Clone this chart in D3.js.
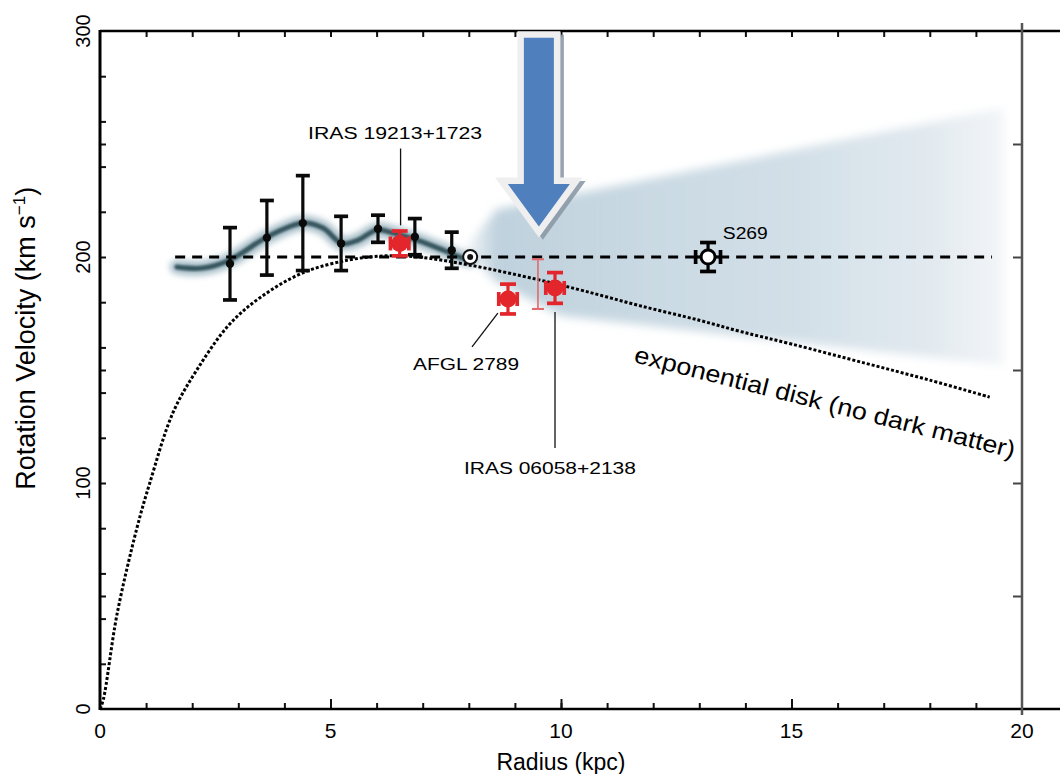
<!DOCTYPE html>
<html><head><meta charset="utf-8">
<script src="https://cdn.jsdelivr.net/npm/d3@7"></script>
<style>
body{margin:0;background:#fff;}
svg text{font-family:"Liberation Sans",Arial,Helvetica,sans-serif;fill:#000;}
</style></head><body>
<svg id="chart" width="1060" height="774"></svg>
<script>
// ---------- data ----------
const xTickLabels = [0, 5, 10, 15, 20];
const yTickLabels = [0, 100, 200, 300];
const xMinorTicks = [1,2,3,4,5,6,7,8,9,10,11,12,13,14,15,16,17,18,19];
const yMinorTicks = [20,40,50,60,80,100,120,140,150,160,180,200,220,240,250,260,280];
const yRightTicks = [50,100,150,200,250];

// HI / tracer rotation curve points (black)
const tracerR   = [2.82, 3.62, 4.40, 5.23, 6.03, 6.83, 7.63];
const tracerV   = [197, 208.5, 215, 206, 212.5, 209, 203];
const tracerErr = [16, 16.5, 21, 12, 6, 8, 8];

// maser sources (red)
const maserNames = ["IRAS 19213+1723", "AFGL 2789", "IRAS 06058+2138"];
const maserR     = [6.5, 8.85, 9.87];
const maserV     = [206, 181.4, 186.3];
const maserVErr  = [5.5, 6.6, 6.8];
const maserRErr  = [0.2, 0.2, 0.2];

// thin pink error bar
const thinR = [9.5];
const thinV = [188];
const thinErr = [11];

// S269
const s269R = [13.19];
const s269V = [200];
const s269VErr = [6.4];
const s269RErr = [0.27];

// Sun
const sunR = [8.03];
const sunV = [200];

// flat rotation (dashed)
const flatR = [1.63, 19.35];
const flatV = [200, 200];

// exponential disk (dotted)
const diskR = [0, 0.07, 0.37, 0.8, 1.08, 1.58, 2.1, 2.8, 3.47, 4.4, 5.4, 6.2, 6.9, 8.0, 9.5, 10.5, 11.7, 13.0, 13.9, 15.0, 16.6, 18.0, 19.3];
const diskV = [0, 4, 42, 80, 100, 131, 150, 170, 182, 193, 198.7, 200.5, 200, 196.5, 190, 185, 178.5, 172, 167, 161.5, 153, 145.5, 138];

// wavy inner band
const bandR = [1.67, 2.23, 2.82, 3.62, 4.40, 4.84, 5.25, 5.6, 6.01, 6.36, 6.88, 7.44, 7.81, 8.03];
const bandV = [195.6, 195.1, 198.7, 208.8, 215.0, 212.8, 206.0, 207.5, 212.0, 210.6, 207.5, 203.1, 199.9, 198.7];

// outer uncertainty fan
const fanR = [7.9, 8.6, 19.6, 19.6, 10.0, 8.6];
const fanV = [203, 221, 266, 152, 174, 189];

// arrow annotation
const arrowR = [9.52];
const arrowV = [297, 232.3, 213.5]; // top, head base, tip

// ---------- setup ----------
const W = 1060, H = 774;
const svg = d3.select("#chart");
const x = d3.scaleLinear().domain([0, 20]).range([100, 1022]);
const y = d3.scaleLinear().domain([0, 300]).range([709, 31]);

svg.append("rect").attr("width", W).attr("height", H).attr("fill", "#fff");

const defs = svg.append("defs");
const fb = defs.append("filter").attr("id", "blurFan").attr("x", "-20%").attr("y", "-30%").attr("width", "140%").attr("height", "160%");
fb.append("feGaussianBlur").attr("stdDeviation", 5);
const bb = defs.append("filter").attr("id", "blurBand").attr("x", "-10%").attr("y", "-50%").attr("width", "120%").attr("height", "200%");
bb.append("feGaussianBlur").attr("stdDeviation", 3);
const bb2 = defs.append("filter").attr("id", "blurCore").attr("x", "-10%").attr("y", "-50%").attr("width", "120%").attr("height", "200%");
bb2.append("feGaussianBlur").attr("stdDeviation", 1.2);

const grad = defs.append("linearGradient").attr("id", "fanGrad")
  .attr("gradientUnits", "userSpaceOnUse")
  .attr("x1", x(7.8)).attr("x2", x(19.7)).attr("y1", 0).attr("y2", 0);
[[0, "#b8ccd8", 0], [0.07, "#bccfdb", 0.95], [0.3, "#c8d8e2", 1], [0.6, "#d2dfe7", 1], [0.85, "#e1e9ef", 1], [1, "#f3f6f8", 1]]
  .forEach(s => grad.append("stop").attr("offset", s[0]).attr("stop-color", s[1]).attr("stop-opacity", s[2]));

// ---------- fan ----------
const fanPts = fanR.map((r, i) => [x(r), y(fanV[i])]);
svg.append("path")
  .attr("d", d3.line()(fanPts) + "Z")
  .attr("fill", "url(#fanGrad)")
  .attr("filter", "url(#blurFan)");

// ---------- wavy band ----------
const bandLine = d3.line().x((d, i) => x(bandR[i])).y(d => y(d)).curve(d3.curveCatmullRom.alpha(0.5));
svg.append("path").attr("d", bandLine(bandV)).attr("fill", "none")
  .attr("stroke", "#86a5b3").attr("stroke-width", 14).attr("stroke-linecap", "round")
  .attr("opacity", 0.75).attr("filter", "url(#blurBand)");
svg.append("path").attr("d", bandLine(bandV)).attr("fill", "none")
  .attr("stroke", "#38575f").attr("stroke-width", 5).attr("stroke-linecap", "round")
  .attr("filter", "url(#blurCore)");

// ---------- axes ----------
const gLeft = svg.append("g").attr("transform", `translate(${x(0)},0)`)
  .call(d3.axisRight(y).tickValues(yMinorTicks).tickSize(6).tickFormat(""));
const gTop = svg.append("g").attr("transform", `translate(0,${y(300)})`)
  .call(d3.axisBottom(x).tickValues(xMinorTicks).tickSize(6).tickFormat(""));
const gBot = svg.append("g").attr("transform", `translate(0,${y(0)})`)
  .call(d3.axisTop(x).tickValues(xMinorTicks).tickSize(6).tickFormat(""));
const gBot5 = svg.append("g").attr("transform", `translate(0,${y(0)})`)
  .call(d3.axisTop(x).tickValues([5, 10, 15]).tickSize(10).tickFormat(""));
const gRight = svg.append("g").attr("transform", `translate(${x(20)},0)`)
  .call(d3.axisLeft(y).tickValues(yRightTicks).tickSize(9).tickFormat(""));
[gLeft, gTop, gBot, gBot5, gRight].forEach(g => {
  g.select(".domain").remove();
  g.selectAll(".tick line").attr("stroke", "#111").attr("stroke-width", 2);
});
gRight.selectAll(".tick line").attr("stroke", "#444");

// frame
svg.append("line").attr("x1", x(0)).attr("x2", W).attr("y1", y(300)).attr("y2", y(300)).attr("stroke", "#000").attr("stroke-width", 2.5);
svg.append("line").attr("x1", x(0)).attr("x2", W).attr("y1", y(0)).attr("y2", y(0)).attr("stroke", "#000").attr("stroke-width", 2.5);
svg.append("line").attr("x1", x(0)).attr("x2", x(0)).attr("y1", y(300) - 1).attr("y2", y(0) + 1).attr("stroke", "#000").attr("stroke-width", 3);
svg.append("line").attr("x1", x(20)).attr("x2", x(20)).attr("y1", y(300) - 8).attr("y2", y(0) + 6).attr("stroke", "#555").attr("stroke-width", 2.5);

// tick labels
svg.append("g").selectAll("text").data(xTickLabels).join("text")
  .attr("x", d => x(d)).attr("y", y(0) + 29)
  .attr("text-anchor", "middle").attr("font-size", 21).text(d => d);
svg.append("g").selectAll("text").data(yTickLabels).join("text")
  .attr("transform", d => `translate(${x(0) - 10},${y(d)}) rotate(-90)`)
  .attr("text-anchor", "middle").attr("font-size", 20).text(d => d);

// axis titles
svg.append("text").attr("x", (x(0) + x(20)) / 2).attr("y", 770)
  .attr("text-anchor", "middle").attr("font-size", 23).text("Radius (kpc)");
const yt = svg.append("text").attr("transform", `translate(35,${y(164)}) rotate(-90)`)
  .attr("text-anchor", "middle").attr("font-size", 27);
yt.append("tspan").text("Rotation Velocity (km s");
yt.append("tspan").attr("dy", -10).attr("font-size", 17).text("\u22121");
yt.append("tspan").attr("dy", 10).text(")");

// ---------- dashed flat line ----------
svg.append("path")
  .attr("d", d3.line().x((d, i) => x(flatR[i])).y(d => y(d))(flatV))
  .attr("stroke", "#000").attr("stroke-width", 3).attr("stroke-dasharray", "10,7").attr("fill", "none");

// ---------- dotted exponential disk ----------
svg.append("path")
  .attr("d", d3.line().x((d, i) => x(diskR[i])).y(d => y(d)).curve(d3.curveCatmullRom.alpha(0.5))(diskV))
  .attr("stroke", "#000").attr("stroke-width", 3).attr("stroke-dasharray", "3,2").attr("fill", "none");

// rotated label
svg.append("text")
  .attr("transform", `translate(${x(11.56)},${y(153.5)}) rotate(14.2)`)
  .attr("font-size", 24).attr("textLength", 392).attr("lengthAdjust", "spacingAndGlyphs")
  .text("exponential disk (no dark matter)");

// ---------- error bars helper ----------
function vBar(g, r, v, e, cap, color, w) {
  g.append("line").attr("x1", x(r)).attr("x2", x(r)).attr("y1", y(v - e)).attr("y2", y(v + e))
    .attr("stroke", color).attr("stroke-width", w);
  [v - e, v + e].forEach(t => g.append("line").attr("x1", x(r) - cap).attr("x2", x(r) + cap)
    .attr("y1", y(t)).attr("y2", y(t)).attr("stroke", color).attr("stroke-width", w + 0.5));
}
function hBar(g, r, v, e, cap, color, w) {
  g.append("line").attr("x1", x(r - e)).attr("x2", x(r + e)).attr("y1", y(v)).attr("y2", y(v))
    .attr("stroke", color).attr("stroke-width", w);
  [r - e, r + e].forEach(t => g.append("line").attr("x1", x(t)).attr("x2", x(t))
    .attr("y1", y(v) - cap).attr("y2", y(v) + cap).attr("stroke", color).attr("stroke-width", w + 0.5));
}

// thin pink bar
const gThin = svg.append("g");
thinR.forEach((r, i) => vBar(gThin, r, thinV[i], thinErr[i], 6, "#e06a6e", 1.6));

// black tracers
const gTr = svg.append("g");
tracerR.forEach((r, i) => vBar(gTr, r, tracerV[i], tracerErr[i], 7, "#0a0a0a", 3.2));
gTr.selectAll("circle").data(tracerR).join("circle")
  .attr("cx", d => x(d)).attr("cy", (d, i) => y(tracerV[i])).attr("r", 4.2).attr("fill", "#0a0a0a");

// Sun
sunR.forEach((r, i) => {
  svg.append("circle").attr("cx", x(r)).attr("cy", y(sunV[i])).attr("r", 7).attr("fill", "#fff").attr("stroke", "#111").attr("stroke-width", 2);
  svg.append("circle").attr("cx", x(r)).attr("cy", y(sunV[i])).attr("r", 3).attr("fill", "#111");
});

// red masers
const red = "#e3262b";
const gM = svg.append("g");
maserR.forEach((r, i) => {
  vBar(gM, r, maserV[i], maserVErr[i], 8, red, 3.2);
  hBar(gM, r, maserV[i], maserRErr[i], 7, red, 3.2);
  gM.append("circle").attr("cx", x(r)).attr("cy", y(maserV[i])).attr("r", 8.5).attr("fill", red);
});

// S269
const gS = svg.append("g");
s269R.forEach((r, i) => {
  vBar(gS, r, s269V[i], s269VErr[i], 8, "#000", 3.2);
  hBar(gS, r, s269V[i], s269RErr[i], 7, "#000", 3.2);
  gS.append("circle").attr("cx", x(r)).attr("cy", y(s269V[i])).attr("r", 7).attr("fill", "#fff").attr("stroke", "#000").attr("stroke-width", 3);
});

// ---------- labels & leaders ----------
const lab = svg.append("g");
function leader(r1, v1, r2, v2) {
  lab.append("line").attr("x1", x(r1)).attr("y1", y(v1)).attr("x2", x(r2)).attr("y2", y(v2))
    .attr("stroke", "#111").attr("stroke-width", 1.3);
}
lab.append("text").attr("x", x(6.4)).attr("y", y(252.2)).attr("text-anchor", "middle")
  .attr("font-size", 16).attr("textLength", 174).attr("lengthAdjust", "spacingAndGlyphs").text(maserNames[0]);
leader(6.52, 248, 6.52, 214);
lab.append("text").attr("x", x(7.94)).attr("y", y(150)).attr("text-anchor", "middle")
  .attr("font-size", 16).attr("textLength", 106).attr("lengthAdjust", "spacingAndGlyphs").text(maserNames[1]);
leader(8.07, 160.2, 8.63, 175.2);
lab.append("text").attr("x", x(9.76)).attr("y", y(104)).attr("text-anchor", "middle")
  .attr("font-size", 16).attr("textLength", 172).attr("lengthAdjust", "spacingAndGlyphs").text(maserNames[2]);
leader(9.87, 175.7, 9.87, 115.5);
lab.append("text").attr("x", x(13.51)).attr("y", y(208)).attr("font-size", 16)
  .attr("textLength", 45).attr("lengthAdjust", "spacingAndGlyphs").text("S269");

// ---------- arrow ----------
const ax = x(arrowR[0]);
const yTop = y(arrowV[0]), yHead = y(arrowV[1]), yTip = y(arrowV[2]);
const sw = 15, hw = 31;
const arrowPts = [[ax - sw, yTop], [ax + sw, yTop], [ax + sw, yHead], [ax + hw, yHead], [ax, yTip], [ax - hw, yHead], [ax - sw, yHead]];
const arrowD = d3.line()(arrowPts) + "Z";
svg.append("path").attr("d", arrowD).attr("transform", "translate(4,3)")
  .attr("fill", "#8c9aa8").attr("stroke", "#8c9aa8").attr("stroke-width", 12).attr("stroke-linejoin", "miter").attr("opacity", 0.9);
svg.append("path").attr("d", arrowD)
  .attr("fill", "#efefef").attr("stroke", "#efefef").attr("stroke-width", 13).attr("stroke-linejoin", "miter");
svg.append("path").attr("d", arrowD).attr("fill", "#4f7fbd");
</script>
</body></html>
